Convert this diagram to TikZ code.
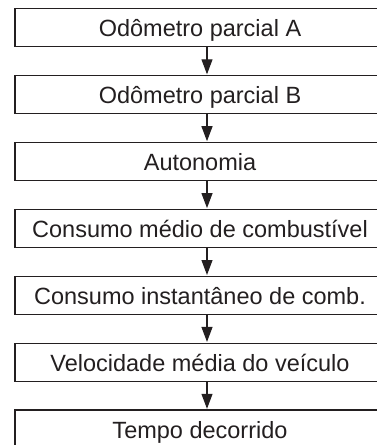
\documentclass[tikz,border=0pt]{standalone}
\usepackage{fontspec}
\setmainfont{Liberation Sans}
\usetikzlibrary{arrows.meta}
\definecolor{ink}{HTML}{231F20}
\tikzset{
  stagebox/.style={draw=ink, line width=1.3pt, minimum width=384pt, minimum height=38pt, inner sep=0pt, anchor=north},
  stagetext/.style={anchor=base, inner sep=0pt, text=ink, font=\fontsize{23.5}{28}\selectfont},
  flow/.style={draw=ink, line width=1.1pt, -{Triangle[width=11pt,length=15pt]}, shorten >=0.6pt}
}
\begin{document}
\begin{tikzpicture}[x=1pt,y=-1pt]
\useasboundingbox (0,0) rectangle (377,445);
\clip (0,0) rectangle (377,445);
\foreach \i/\t/\txt in {1/8/Odômetro parcial A, 2/74.9/Odômetro parcial B, 3/141.8/Autonomia, 4/208.7/Consumo médio de combustível, 5/275.6/Consumo instantâneo de comb., 6/342.5/Velocidade média do veículo, 7/409.4/Tempo decorrido}{
  \node[stagebox] (b\i) at (207,\t) {};
  \node[stagetext] (t\i) at (200,\t+28.8) {\txt};
}
\foreach \i [evaluate=\i as \j using int(\i+1)] in {1,...,6}{
  \draw[flow] (b\i.south) -- (b\j.north);
}
\end{tikzpicture}
\end{document}
